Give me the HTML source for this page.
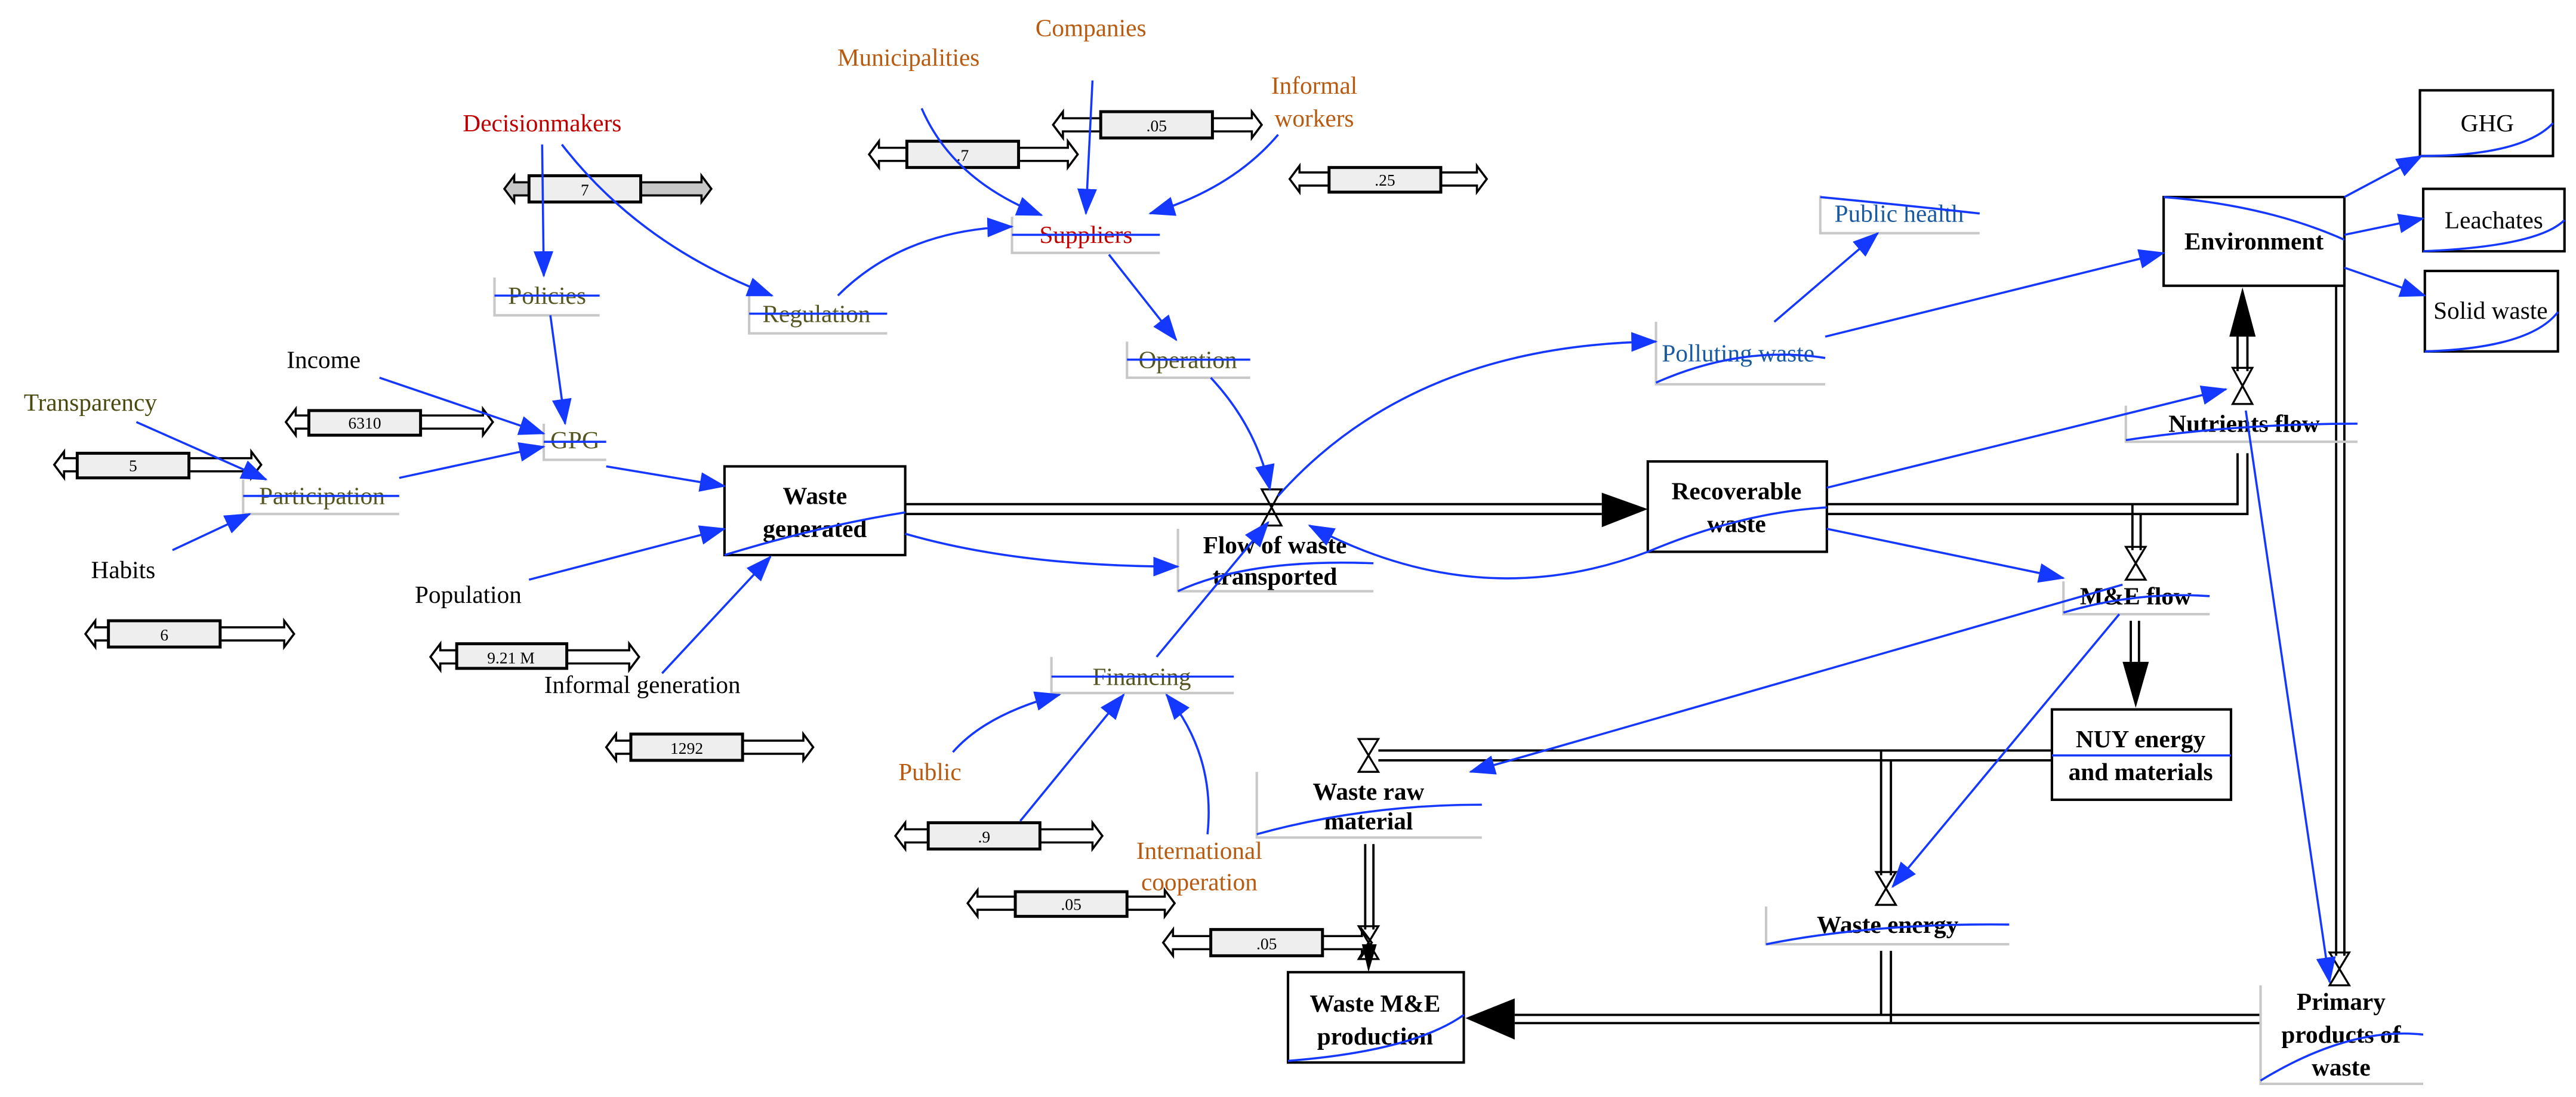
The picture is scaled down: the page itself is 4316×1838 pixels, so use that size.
<!DOCTYPE html>
<html><head><meta charset="utf-8"><style>
html,body{margin:0;padding:0;background:#fff;}
svg{display:block;}
text{font-family:"Liberation Serif",serif;}
.l{font-size:15px;}
.b{font-size:15px;font-weight:bold;}
.n{font-family:"Liberation Sans",sans-serif;font-size:10px;}
.bl{stroke:#1438ff;fill:none;stroke-width:1.3;}
.bx{fill:#fff;stroke:#000;stroke-width:1.5;}
.p{stroke:#000;stroke-width:1.4;fill:none;}
.g{stroke:#c8c8c8;stroke-width:1.5;fill:none;}
</style></head><body>
<svg width="4316" height="1838" viewBox="0 0 1568 668" preserveAspectRatio="none" xmlns="http://www.w3.org/2000/svg">
<defs>
<marker id="a" markerUnits="userSpaceOnUse" markerWidth="16" markerHeight="12" refX="15" refY="6" orient="auto"><path d="M0,0 L16,6 L0,12 Z" fill="#1438ff"/></marker>
</defs>
<rect width="1568" height="668" fill="#fff"/>

<!-- sliders -->
<g stroke="#000" stroke-width="1.3">
<polygon fill="#c8c8c8" points="307,115 313,107 313,111 427,111 427,107 433,115 427,123 427,119 313,119 313,123"/>
<rect x="322" y="107" width="68" height="16" fill="#eee" stroke-width="1.8"/>
<polygon fill="#fff" points="529,94 535,86 535,90 650,90 650,86 656,94 650,102 650,98 535,98 535,102"/>
<rect x="552" y="86" width="68" height="16" fill="#eee" stroke-width="1.8"/>
<polygon fill="#fff" points="641,76 647,68 647,72 762,72 762,68 768,76 762,84 762,80 647,80 647,84"/>
<rect x="670" y="68" width="68" height="16" fill="#eee" stroke-width="1.8"/>
<polygon fill="#fff" points="785,109 791,101 791,105 899,105 899,101 905,109 899,117 899,113 791,113 791,117"/>
<rect x="809" y="102" width="68" height="15" fill="#eee" stroke-width="1.8"/>
<polygon fill="#fff" points="174,257 180,249 180,253 294,253 294,249 300,257 294,265 294,261 180,261 180,265"/>
<rect x="188" y="250" width="68" height="15" fill="#eee" stroke-width="1.8"/>
<polygon fill="#fff" points="33,283 39,275 39,279 153,279 153,275 159,283 153,291 153,287 39,287 39,291"/>
<rect x="47" y="276" width="68" height="15" fill="#eee" stroke-width="1.8"/>
<polygon fill="#fff" points="52,386 58,378 58,382 173,382 173,378 179,386 173,394 173,390 58,390 58,394"/>
<rect x="66" y="378" width="68" height="16" fill="#eee" stroke-width="1.8"/>
<polygon fill="#fff" points="262,400 268,392 268,396 383,396 383,392 389,400 383,408 383,404 268,404 268,408"/>
<rect x="278" y="392" width="67" height="15" fill="#eee" stroke-width="1.8"/>
<polygon fill="#fff" points="369,455 375,447 375,451 489,451 489,447 495,455 489,463 489,459 375,459 375,463"/>
<rect x="384" y="447" width="68" height="16" fill="#eee" stroke-width="1.8"/>
<polygon fill="#fff" points="545,509 551,501 551,505 665,505 665,501 671,509 665,517 665,513 551,513 551,517"/>
<rect x="565" y="501" width="68" height="16" fill="#eee" stroke-width="1.8"/>
<polygon fill="#fff" points="589,550 595,542 595,546 709,546 709,542 715,550 709,558 709,554 595,554 595,558"/>
<rect x="618" y="543" width="68" height="15" fill="#eee" stroke-width="1.8"/>
<polygon fill="#fff" points="708,574 714,566 714,570 829,570 829,566 835,574 829,582 829,578 714,578 714,582"/>
<rect x="737" y="566" width="68" height="16" fill="#eee" stroke-width="1.8"/>
</g>
<g class="n" text-anchor="middle">
<text x="356" y="119">7</text><text x="586" y="98">.7</text><text x="704" y="80">.05</text>
<text x="843" y="113">.25</text><text x="222" y="261">6310</text><text x="81" y="287">5</text>
<text x="100" y="390">6</text><text x="311" y="404">9.21 M</text><text x="418" y="459">1292</text>
<text x="599" y="513">.9</text><text x="652" y="554">.05</text><text x="771" y="578">.05</text>
</g>

<!-- pipes -->
<g class="p">
<line x1="551" y1="307" x2="975" y2="307"/><line x1="551" y1="313" x2="975" y2="313"/>
<polyline points="1112,307 1362,307 1362,276"/><polyline points="1112,313 1368,313 1368,276"/>
<line x1="1298" y1="307" x2="1298" y2="335"/><line x1="1303" y1="313" x2="1303" y2="335"/>
<line x1="1362" y1="205" x2="1362" y2="226"/><line x1="1368" y1="205" x2="1368" y2="226"/>
<line x1="1422" y1="174" x2="1422" y2="582"/><line x1="1427" y1="174" x2="1427" y2="582"/>
<line x1="1297" y1="378" x2="1297" y2="403"/><line x1="1302" y1="378" x2="1302" y2="403"/>
<line x1="1249" y1="457" x2="839" y2="457"/><line x1="1249" y1="463" x2="839" y2="463"/>
<line x1="1145" y1="457" x2="1145" y2="533"/><line x1="1151" y1="463" x2="1151" y2="533"/>
<line x1="1145" y1="579" x2="1145" y2="618"/><line x1="1151" y1="579" x2="1151" y2="623"/>
<line x1="1376" y1="618" x2="922" y2="618"/><line x1="1376" y1="623" x2="922" y2="623"/>
<line x1="831" y1="514" x2="831" y2="566"/><line x1="836" y1="514" x2="836" y2="566"/>
</g>
<g fill="#000">
<polygon points="975,300 1003,310 975,321"/>
<polygon points="1357,205 1365,175 1373,205"/>
<polygon points="1292,403 1300,431 1308,403"/>
<polygon points="922,608 892,620 922,633"/>
<polygon points="829,575 833,592 838,575"/>
</g>
<!-- valves -->
<g stroke="#000" stroke-width="1.2" fill="none">
<path d="M768,298 L780,298 L768,320 L780,320 Z"/>
<path d="M1359,224 L1371,224 L1359,246 L1371,246 Z"/>
<path d="M1294,333 L1306,333 L1294,353 L1306,353 Z"/>
<path d="M827,450 L839,450 L827,470 L839,470 Z"/>
<path d="M1142,531 L1154,531 L1142,551 L1154,551 Z"/>
<path d="M1418,580 L1430,580 L1418,600 L1430,600 Z"/>
<path d="M827,564 L839,564 L827,584 L839,584 Z"/>
</g>

<!-- stock boxes -->
<rect class="bx" x="441" y="284" width="110" height="54"/>
<rect class="bx" x="1003" y="281" width="109" height="55"/>
<rect class="bx" x="1317" y="120" width="110" height="54"/>
<rect class="bx" x="1473" y="55" width="81" height="40"/>
<rect class="bx" x="1475" y="115" width="86" height="38"/>
<rect class="bx" x="1476" y="165" width="81" height="49"/>
<rect class="bx" x="1249" y="432" width="109" height="55"/>
<rect class="bx" x="784" y="592" width="107" height="55"/>

<!-- label boxes (gray) -->
<g class="g">
<polyline points="301,169 301,192 365,192"/><polyline points="456,180 456,203 540,203"/>
<polyline points="616,132 616,154 706,154"/><polyline points="686,208 686,230 761,230"/>
<polyline points="331,258 331,280 369,280"/><polyline points="148,292 148,313 243,313"/>
<polyline points="640,400 640,422 751,422"/><polyline points="717,322 717,360 836,360"/>
<polyline points="1108,119 1108,142 1205,142"/><polyline points="1008,196 1008,234 1111,234"/>
<polyline points="1294,247 1294,269 1435,269"/><polyline points="1256,354 1256,374 1345,374"/>
<polyline points="765,470 765,510 902,510"/><polyline points="1075,552 1075,575 1223,575"/>
<polyline points="1376,600 1376,660 1475,660"/>
</g>

<!-- texts -->
<g class="l" text-anchor="middle">
<text x="330" y="80" fill="#c00000">Decisionmakers</text>
<text x="664" y="22" fill="#b85a10">Companies</text>
<text x="553" y="40" fill="#b85a10">Municipalities</text>
<text x="800" y="57" fill="#b85a10">Informal</text>
<text x="800" y="77" fill="#b85a10">workers</text>
<text x="333" y="185" fill="#555522">Policies</text>
<text x="497" y="196" fill="#555522">Regulation</text>
<text x="661" y="148" fill="#c00000">Suppliers</text>
<text x="723" y="224" fill="#555522">Operation</text>
<text x="350" y="273" fill="#555522">GPG</text>
<text x="197" y="224" fill="#000">Income</text>
<text x="55" y="250" fill="#4a4a10">Transparency</text>
<text x="196" y="307" fill="#555522">Participation</text>
<text x="75" y="352" fill="#000">Habits</text>
<text x="285" y="367" fill="#000">Population</text>
<text x="391" y="422" fill="#000">Informal generation</text>
<text x="695" y="417" fill="#555522">Financing</text>
<text x="566" y="475" fill="#b85a10">Public</text>
<text x="730" y="523" fill="#b85a10">International</text>
<text x="730" y="542" fill="#b85a10">cooperation</text>
<text x="1156" y="135" fill="#1a5aa0">Public health</text>
<text x="1058" y="220" fill="#1a5aa0">Polluting waste</text>
<text x="1514" y="80" fill="#000">GHG</text>
<text x="1518" y="139" fill="#000">Leachates</text>
<text x="1516" y="194" fill="#000">Solid waste</text>
</g>
<g class="b" text-anchor="middle">
<text x="496" y="307">Waste</text><text x="496" y="327">generated</text>
<text x="1057" y="304">Recoverable</text><text x="1057" y="324">waste</text>
<text x="1372" y="152">Environment</text>
<text x="1366" y="263">Nutrients flow</text>
<text x="1300" y="368">M&amp;E flow</text>
<text x="1303" y="455">NUY energy</text><text x="1303" y="475">and materials</text>
<text x="776" y="337">Flow of waste</text><text x="776" y="356">transported</text>
<text x="833" y="487">Waste raw</text><text x="833" y="505">material</text>
<text x="1149" y="568">Waste energy</text>
<text x="837" y="616">Waste M&amp;E</text><text x="837" y="636">production</text>
<text x="1425" y="615">Primary</text><text x="1425" y="635">products of</text><text x="1425" y="655">waste</text>
</g>

<!-- blue decorations -->
<g class="bl" stroke-width="1.6">
<line x1="301" y1="180" x2="365" y2="180"/><line x1="456" y1="191" x2="540" y2="191"/>
<line x1="616" y1="143" x2="706" y2="143"/><line x1="686" y1="219" x2="761" y2="219"/>
<line x1="331" y1="269" x2="369" y2="269"/><line x1="148" y1="302" x2="243" y2="302"/>
<line x1="640" y1="412" x2="751" y2="412"/>
<path d="M441,338 Q500,320 551,312"/><path d="M1003,336 Q1060,312 1112,309"/>
<path d="M1317,120 Q1380,125 1427,146"/><path d="M1473,95 Q1535,95 1554,75"/>
<path d="M1475,153 Q1545,150 1561,134"/><path d="M1476,214 Q1540,212 1557,190"/>
<path d="M784,646 Q860,640 891,618"/><path d="M1376,658 Q1430,625 1475,630"/>
<path d="M1108,120 Q1160,125 1205,130"/><path d="M1008,233 Q1060,210 1111,218"/>
<path d="M1294,268 Q1360,258 1435,258"/><path d="M1256,373 Q1300,360 1345,363"/>
<path d="M765,508 Q830,490 902,490"/><path d="M1075,575 Q1140,562 1223,563"/>
<path d="M717,360 Q760,340 836,343"/><line x1="1249" y1="460" x2="1358" y2="460"/>
</g>

<!-- blue connectors -->
<g class="bl" marker-end="url(#a)">
<line x1="330" y1="88" x2="331" y2="168"/>
<path d="M342,88 Q390,150 470,180"/>
<path d="M510,180 Q550,140 616,138"/>
<path d="M561,66 Q580,110 634,131"/>
<line x1="665" y1="49" x2="661" y2="130"/>
<path d="M778,82 Q750,115 700,130"/>
<line x1="675" y1="155" x2="716" y2="207"/>
<path d="M737,230 Q765,260 773,298"/>
<line x1="335" y1="192" x2="344" y2="258"/>
<line x1="231" y1="230" x2="331" y2="264"/>
<line x1="83" y1="257" x2="162" y2="292"/>
<line x1="105" y1="335" x2="152" y2="313"/>
<line x1="243" y1="291" x2="331" y2="272"/>
<line x1="369" y1="284" x2="441" y2="296"/>
<line x1="322" y1="353" x2="441" y2="322"/>
<line x1="403" y1="410" x2="469" y2="339"/>
<path d="M551,325 Q620,345 717,345"/>
<line x1="704" y1="400" x2="772" y2="318"/>
<path d="M778,302 Q860,210 1008,208"/>
<path d="M1003,336 Q900,375 797,320"/>
<line x1="1080" y1="196" x2="1143" y2="142"/>
<line x1="1111" y1="205" x2="1317" y2="154"/>
<line x1="1112" y1="297" x2="1355" y2="237"/>
<line x1="1112" y1="322" x2="1256" y2="352"/>
<line x1="1292" y1="356" x2="895" y2="470"/>
<line x1="1290" y1="374" x2="1152" y2="540"/>
<line x1="1367" y1="250" x2="1418" y2="598"/>
<line x1="1427" y1="120" x2="1474" y2="95"/>
<line x1="1427" y1="143" x2="1475" y2="133"/>
<line x1="1427" y1="163" x2="1476" y2="180"/>
<path d="M580,458 Q600,435 645,423"/>
<line x1="621" y1="500" x2="684" y2="423"/>
<path d="M735,508 Q740,460 710,423"/>
</g>
</svg>
</body></html>
